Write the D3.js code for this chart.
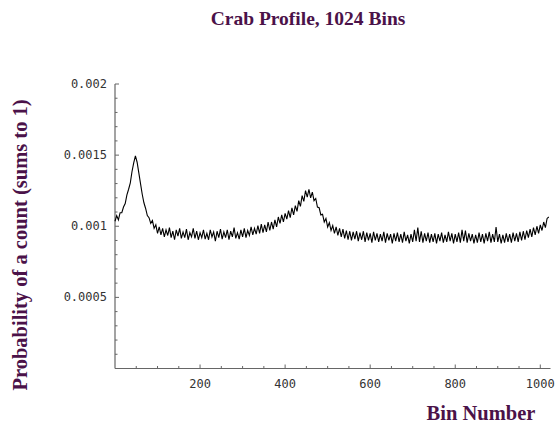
<!DOCTYPE html>
<html><head><meta charset="utf-8">
<script src="https://d3js.org/d3.v7.min.js"></script>
<style>body{margin:0;background:#fff}svg{display:block}</style>
</head><body>
<script>
// Probability per bin (every 4th bin)
const binStep = 4;
const probability = [
1035e-6,1075e-6,1045e-6,1095e-6,1095e-6,1135e-6,1160e-6,1220e-6,1260e-6,1305e-6,1385e-6,1445e-6,1495e-6,1450e-6,1375e-6,1300e-6,
1225e-6,1165e-6,1125e-6,1075e-6,1060e-6,1020e-6,1040e-6,985e-6,1010e-6,950e-6,995e-6,940e-6,985e-6,925e-6,975e-6,935e-6,
990e-6,920e-6,965e-6,905e-6,975e-6,930e-6,985e-6,915e-6,960e-6,920e-6,980e-6,905e-6,955e-6,925e-6,985e-6,915e-6,
965e-6,905e-6,955e-6,920e-6,975e-6,910e-6,950e-6,905e-6,975e-6,925e-6,960e-6,895e-6,965e-6,920e-6,980e-6,910e-6,
960e-6,920e-6,975e-6,905e-6,965e-6,925e-6,990e-6,915e-6,955e-6,910e-6,975e-6,925e-6,985e-6,920e-6,970e-6,935e-6,
995e-6,940e-6,985e-6,945e-6,1005e-6,950e-6,1015e-6,955e-6,1010e-6,960e-6,1030e-6,970e-6,1030e-6,980e-6,1045e-6,995e-6,
1065e-6,1020e-6,1080e-6,1030e-6,1090e-6,1050e-6,1110e-6,1060e-6,1130e-6,1080e-6,1145e-6,1105e-6,1180e-6,1140e-6,1215e-6,1175e-6,
1250e-6,1205e-6,1260e-6,1200e-6,1240e-6,1180e-6,1195e-6,1135e-6,1130e-6,1080e-6,1085e-6,1030e-6,1055e-6,995e-6,1025e-6,970e-6,
1005e-6,950e-6,995e-6,935e-6,985e-6,925e-6,980e-6,915e-6,970e-6,905e-6,965e-6,900e-6,960e-6,910e-6,965e-6,895e-6,
955e-6,905e-6,965e-6,890e-6,955e-6,900e-6,950e-6,885e-6,960e-6,900e-6,950e-6,890e-6,945e-6,895e-6,960e-6,885e-6,
950e-6,900e-6,945e-6,880e-6,950e-6,895e-6,955e-6,890e-6,945e-6,885e-6,960e-6,895e-6,940e-6,880e-6,945e-6,890e-6,
975e-6,895e-6,990e-6,890e-6,965e-6,885e-6,950e-6,895e-6,955e-6,885e-6,945e-6,890e-6,950e-6,880e-6,945e-6,895e-6,
955e-6,885e-6,940e-6,890e-6,960e-6,895e-6,950e-6,880e-6,945e-6,890e-6,955e-6,885e-6,975e-6,895e-6,970e-6,885e-6,
950e-6,895e-6,945e-6,880e-6,940e-6,885e-6,955e-6,890e-6,945e-6,880e-6,950e-6,895e-6,960e-6,885e-6,945e-6,890e-6,
995e-6,890e-6,945e-6,880e-6,940e-6,885e-6,950e-6,890e-6,945e-6,885e-6,955e-6,895e-6,950e-6,890e-6,960e-6,900e-6,
965e-6,905e-6,970e-6,920e-6,980e-6,925e-6,990e-6,940e-6,1000e-6,950e-6,1010e-6,970e-6,1030e-6,990e-6,1055e-6,1065e-6
];
const bins = probability.map((_, i) => i * binStep);
const xMajorTicks = [200, 400, 600, 800, 1000];
const xMinorTicks = d3.range(50, 1024, 50).filter(v => v % 200 !== 0);
const yMajorTicks = [0.0005, 0.001, 0.0015, 0.002];
const yTickLabels = ["0.0005", "0.001", "0.0015", "0.002"];
const yMinorTicks = d3.range(1, 20).map(k => k * 0.0001).filter((v, i) => (i + 1) % 5 !== 0);

const W = 555, H = 423;
const svg = d3.select("body").append("svg").attr("width", W).attr("height", H);
const x = d3.scaleLinear().domain([0, 1024]).range([115, 550.5]);
const y = d3.scaleLinear().domain([0, 0.002]).range([368.5, 84]);

const axisColor = "#666";
const tickFont = "'DejaVu Sans Mono', monospace";
const purple = "#4b1249";
const serif = "'Liberation Serif', 'Times New Roman', serif";

svg.append("line").attr("x1", x(0)).attr("x2", x(1024)).attr("y1", y(0)).attr("y2", y(0))
  .attr("stroke", axisColor).attr("stroke-width", 1.2);
svg.append("line").attr("x1", x(0)).attr("x2", x(0)).attr("y1", y(0)).attr("y2", y(0.002))
  .attr("stroke", axisColor).attr("stroke-width", 1.2);

svg.selectAll(".xmaj").data(xMajorTicks).enter().append("line")
  .attr("x1", d => x(d)).attr("x2", d => x(d)).attr("y1", y(0)).attr("y2", y(0) - 4)
  .attr("stroke", axisColor);
svg.selectAll(".xmin").data(xMinorTicks).enter().append("line")
  .attr("x1", d => x(d)).attr("x2", d => x(d)).attr("y1", y(0)).attr("y2", y(0) - 2.5)
  .attr("stroke", axisColor);
svg.selectAll(".xlab").data(xMajorTicks).enter().append("text")
  .attr("x", d => x(d)).attr("y", 388).attr("text-anchor", "middle")
  .attr("font-family", tickFont).attr("font-size", 12).attr("fill", "#333")
  .text(d => d);

svg.selectAll(".ymaj").data(yMajorTicks).enter().append("line")
  .attr("x1", x(0)).attr("x2", x(0) + 4).attr("y1", d => y(d)).attr("y2", d => y(d))
  .attr("stroke", axisColor);
svg.selectAll(".ymin").data(yMinorTicks).enter().append("line")
  .attr("x1", x(0)).attr("x2", x(0) + 2.5).attr("y1", d => y(d)).attr("y2", d => y(d))
  .attr("stroke", axisColor);
svg.selectAll(".ylab").data(yMajorTicks).enter().append("text")
  .attr("x", 107).attr("y", d => y(d) + 4).attr("text-anchor", "end")
  .attr("font-family", tickFont).attr("font-size", 12).attr("fill", "#333")
  .text((d, i) => yTickLabels[i]);

const line = d3.line().x((d, i) => x(bins[i])).y(d => y(d));
svg.append("path").datum(probability).attr("d", line)
  .attr("fill", "none").attr("stroke", "#000").attr("stroke-width", 1.1);

svg.append("text").attr("x", 308).attr("y", 25).attr("text-anchor", "middle")
  .attr("font-family", serif).attr("font-weight", "bold")
  .attr("font-size", 19.5).attr("fill", purple).text("Crab Profile, 1024 Bins");
svg.append("text").attr("x", 481).attr("y", 420).attr("text-anchor", "middle")
  .attr("font-family", serif).attr("font-weight", "bold")
  .attr("font-size", 20.5).attr("fill", purple).text("Bin Number");
svg.append("text").attr("transform", "translate(27,245) rotate(-90)").attr("text-anchor", "middle")
  .attr("font-family", serif).attr("font-weight", "bold")
  .attr("font-size", 20.5).attr("fill", purple).text("Probability of a count (sums to 1)");
</script>
</body></html>
